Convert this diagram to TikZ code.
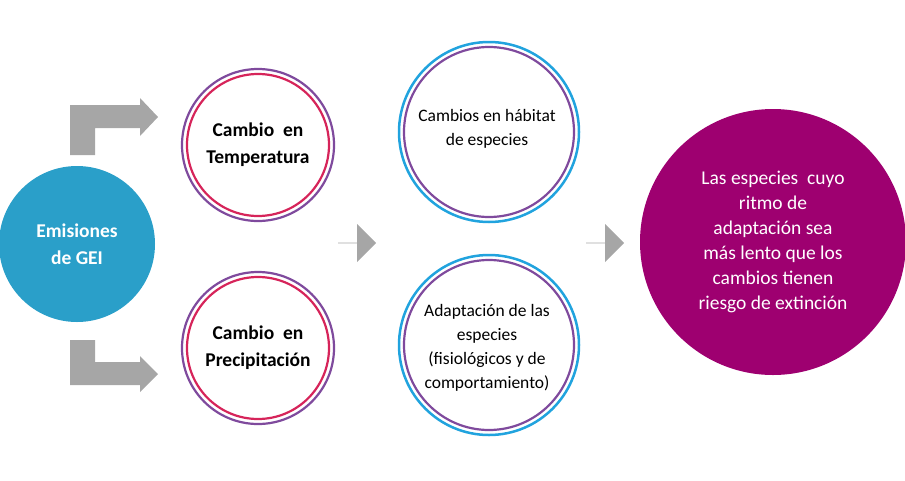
\documentclass[tikz,border=0pt]{standalone}
\usepackage{fontspec}
\setmainfont{Carlito}
\usetikzlibrary{shapes.arrows}
\definecolor{geiBlue}{HTML}{2A9FC9}
\definecolor{ringPurple}{HTML}{7F4A9D}
\definecolor{ringRed}{HTML}{D6245A}
\definecolor{ringBlue}{HTML}{21A3DE}
\definecolor{endMagenta}{HTML}{9E0070}
\definecolor{arrowGray}{HTML}{A6A6A6}
\begin{document}
\begin{tikzpicture}[x=1pt,y=-1pt,
	ring/.style={align=center, font=\fontsize{19.5}{27}\selectfont\bfseries},
	bigring/.style={align=center, font=\fontsize{17.5}{24}\selectfont},
	grayArrow/.style={single arrow, fill=arrowGray, minimum height=38pt, minimum width=38pt, single arrow head extend=8pt, single arrow head indent=0pt, inner sep=0pt}]
	\useasboundingbox (0,0) rectangle (905,480);

	% circles
	\node[circle, fill=geiBlue, minimum size=156pt, text=white, align=center, font=\fontsize{19.5}{27}\selectfont\bfseries](gei) at (77,244){Emisiones\\de GEI};

	\draw[ringPurple, line width=2.2pt] (258,145) circle (76);
	\draw[ringRed, line width=2.2pt] (258,145) circle (71);
	\node[ring](temp) at (258,145){Cambio\ \ en\\Temperatura};
	\draw[ringPurple, line width=2.2pt] (258,348) circle (76);
	\draw[ringRed, line width=2.2pt] (258,348) circle (71);
	\node[ring](prec) at (258,348){Cambio\ \ en\\Precipitación};

	\draw[ringBlue, line width=2.5pt] (489,132) circle (90);
	\draw[ringPurple, line width=2.2pt] (489,132) circle (85);
	\node[bigring](hab) at (487,129){Cambios en hábitat\\de especies};
	\draw[ringBlue, line width=2.5pt] (489,345) circle (90);
	\draw[ringPurple, line width=2.2pt] (489,345) circle (85);
	\node[bigring](adap) at (487,348){Adaptación de las\\especies\\(fisiológicos y de\\comportamiento)};

	\node[circle, fill=endMagenta, minimum size=266pt, text=white, align=center, font=\fontsize{19.5}{25}\selectfont](ext) at (773,242){Las especies\ \ cuyo\\ritmo de\\adaptación sea\\más lento que los\\cambios tienen\\riesgo de extinción};

	% bent arrows
	\fill[arrowGray] (70,155) -- (70,105) -- (140,105) -- (140,98) -- (158,117) -- (140,136) -- (140,128) -- (95,128) -- (95,155) -- cycle;
	\fill[arrowGray] (70,340) -- (70,385) -- (140,385) -- (140,392) -- (158,374) -- (140,356) -- (140,362) -- (95,362) -- (95,340) -- cycle;

	% straight arrows
	\node[grayArrow](a1) at (357,243){};
	\node[grayArrow](a2) at (605,243){};
\end{tikzpicture}
\end{document}
